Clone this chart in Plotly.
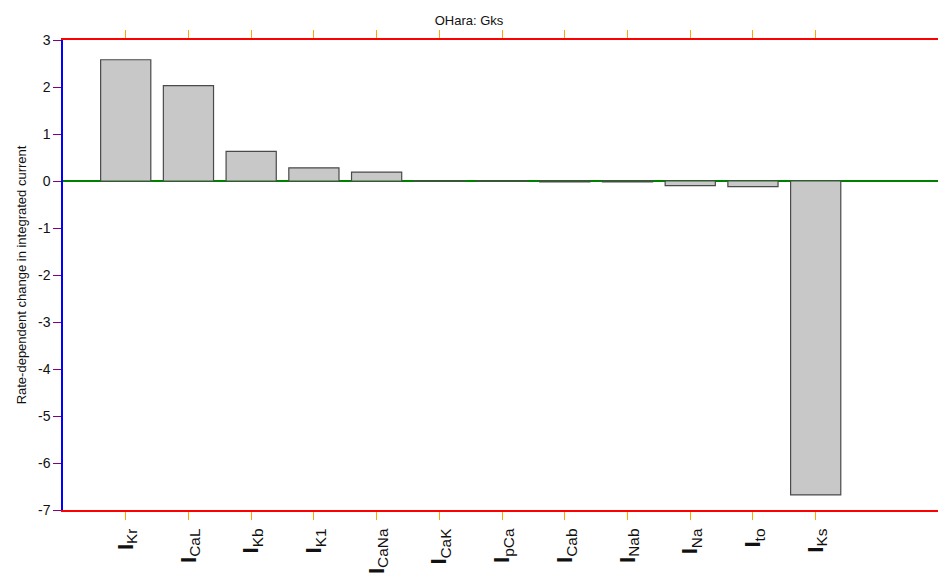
import plotly.graph_objects as go

# Currents (subscript names) and their rate-dependent change in integrated current
currents = ["Kr", "CaL", "Kb", "K1", "CaNa", "CaK", "pCa", "Cab", "Nab", "Na", "to", "Ks"]
changes = [2.58, 2.03, 0.63, 0.28, 0.19, 0.01, 0.01, -0.02, -0.02, -0.10, -0.12, -6.68]
y_ticks = [3, 2, 1, 0, -1, -2, -3, -4, -5, -6, -7]

positions = list(range(1, len(currents) + 1))
tick_text = ["<b>I</b><sub>%s</sub>" % c for c in currents]

font_family = "Arial, Liberation Sans, sans-serif"

fig = go.Figure(
    go.Bar(
        x=positions,
        y=changes,
        width=0.8,
        marker=dict(color="#c8c8c8", line=dict(color="#4a4a4a", width=1.2)),
    )
)

fig.update_layout(
    width=938,
    height=574,
    margin=dict(l=63, r=0, t=40, b=62),
    paper_bgcolor="white",
    plot_bgcolor="white",
    showlegend=False,
    font=dict(family=font_family, color="#111"),
    title=dict(
        text="OHara: Gks",
        x=0.5,
        xanchor="center",
        y=0.965,
        yanchor="middle",
        font=dict(size=13, family=font_family, color="#111"),
    ),
)

fig.update_xaxes(
    range=[0, 13.95],
    tickmode="array",
    tickvals=positions,
    ticktext=tick_text,
    tickangle=-90,
    tickfont=dict(size=22, family=font_family, color="#111"),
    ticks="outside",
    ticklen=8,
    tickcolor="orange",
    showline=True,
    linecolor="red",
    linewidth=1.5,
    mirror="ticks",
    showgrid=False,
    zeroline=False,
)

fig.update_yaxes(
    range=[-7, 3],
    tickmode="array",
    tickvals=y_ticks,
    ticktext=[str(v) for v in y_ticks],
    tickfont=dict(size=14, family=font_family, color="#111"),
    ticks="outside",
    ticklen=8,
    tickcolor="purple",
    showline=True,
    linecolor="blue",
    linewidth=1.5,
    mirror=False,
    showgrid=False,
    zeroline=True,
    zerolinecolor="green",
    zerolinewidth=1.5,
    title=dict(
        text="Rate-dependent change in integrated current",
        font=dict(size=13, family=font_family, color="#111"),
        standoff=8,
    ),
)

fig.write_html("out.html")
